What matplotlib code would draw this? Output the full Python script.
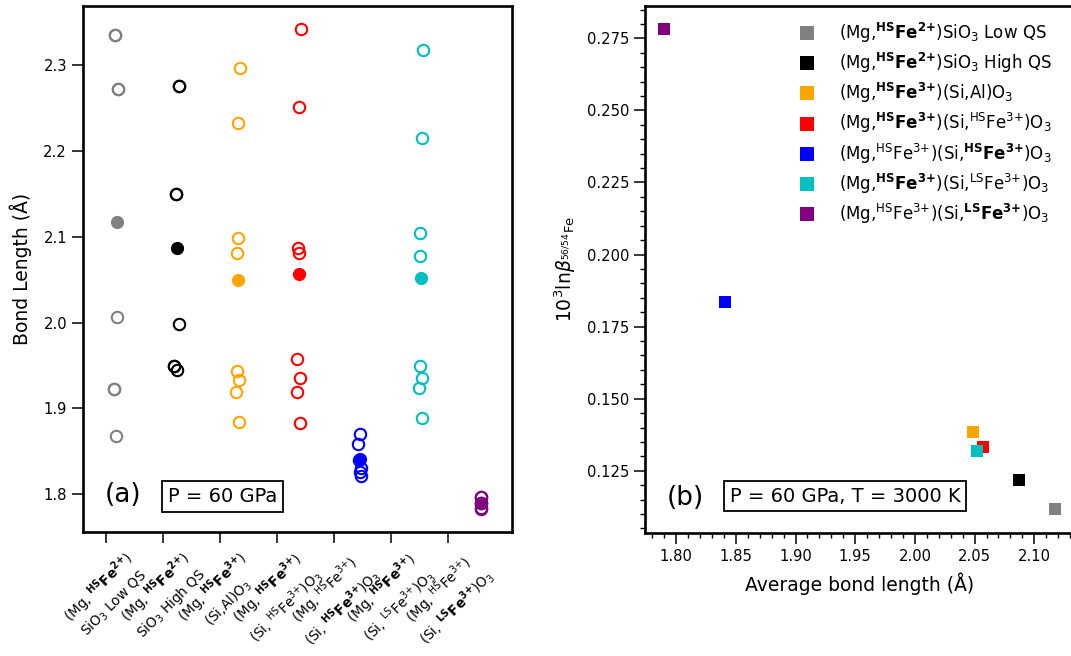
import numpy as np
import matplotlib
matplotlib.use("Agg")
import matplotlib.pyplot as plt
from matplotlib.ticker import MultipleLocator, FormatStrFormatter
from matplotlib.lines import Line2D

plt.rcParams['font.family'] = ['DejaVu Sans']
plt.rcParams['mathtext.fontset'] = 'dejavusans'

# ---------------- data ----------------
TICK_LABELS = [
    "(Mg, $\\mathbf{^{HS}Fe^{2{+}}}$)\nSiO$_3$ Low QS",
    "(Mg, $\\mathbf{^{HS}Fe^{2{+}}}$)\nSiO$_3$ High QS",
    "(Mg, $\\mathbf{^{HS}Fe^{3{+}}}$)\n(Si,Al)O$_3$",
    "(Mg, $\\mathbf{^{HS}Fe^{3{+}}}$)\n(Si, $^{\\mathrm{HS}}$Fe$^{3{+}}$)O$_3$",
    "(Mg, $^{\\mathrm{HS}}$Fe$^{3{+}}$)\n(Si, $\\mathbf{^{HS}Fe^{3{+}}}$)O$_3$",
    "(Mg, $\\mathbf{^{HS}Fe^{3{+}}}$)\n(Si, $^{\\mathrm{LS}}$Fe$^{3{+}}$)O$_3$",
    "(Mg, $^{\\mathrm{HS}}$Fe$^{3{+}}$)\n(Si, $\\mathbf{^{LS}Fe^{3{+}}}$)O$_3$",
]
LEGEND_LABELS = [
    "(Mg,$\\mathbf{^{HS}Fe^{2{+}}}$)SiO$_3$ Low QS",
    "(Mg,$\\mathbf{^{HS}Fe^{2{+}}}$)SiO$_3$ High QS",
    "(Mg,$\\mathbf{^{HS}Fe^{3{+}}}$)(Si,Al)O$_3$",
    "(Mg,$\\mathbf{^{HS}Fe^{3{+}}}$)(Si,$^{\\mathrm{HS}}$Fe$^{3{+}}$)O$_3$",
    "(Mg,$^{\\mathrm{HS}}$Fe$^{3{+}}$)(Si,$\\mathbf{^{HS}Fe^{3{+}}}$)O$_3$",
    "(Mg,$\\mathbf{^{HS}Fe^{3{+}}}$)(Si,$^{\\mathrm{LS}}$Fe$^{3{+}}$)O$_3$",
    "(Mg,$^{\\mathrm{HS}}$Fe$^{3{+}}$)(Si,$\\mathbf{^{LS}Fe^{3{+}}}$)O$_3$",
]

# individual Fe-O bond lengths (Angstrom)
BONDS_FE2_LOWQS = [2.3355, 2.3355, 2.2724, 2.2724, 2.0064, 1.9219, 1.9219, 1.868]
BONDS_FE2_HIGHQS = [2.2763, 2.2763, 2.150, 2.150, 1.9979, 1.9488, 1.9488, 1.9441]
BONDS_FE3_AL = [2.2973, 2.233, 2.0981, 2.0806, 1.9429, 1.9332, 1.9187, 1.8841]
BONDS_FE3A_HSB = [2.3418, 2.2513, 2.0864, 2.0806, 1.9573, 1.9356, 1.9192, 1.8833]
BONDS_FE3B_HSA = [1.8696, 1.8584, 1.840, 1.8303, 1.826, 1.8213]
BONDS_FE3A_LSB = [2.3176, 2.2151, 2.104, 2.0774, 1.9491, 1.9356, 1.9234, 1.8883]
BONDS_FE3B_LS = [1.797, 1.796, 1.790, 1.789, 1.784, 1.783]

# average bond lengths and 10^3 ln(beta)
AVG_BOND = [2.117, 2.087, 2.049, 2.057, 1.841, 2.052, 1.790]
LNBETA = [0.1117, 0.1217, 0.1383, 0.1331, 0.1834, 0.1319, 0.2781]

# small horizontal jitter of each open circle (pixels)
JIT_PX = [
    [-0.7, -0.7, 1.5, 1.5, 1.3, -2.0, -2.0, 0.0],
    [1.7, 1.7, -0.5, -0.5, 2.5, -2.8, -2.8, 0.5],
    [2.4, 0.7, 0.1, -0.6, -0.9, 1.7, -1.9, 1.4],
    [2.6, 0.9, -0.7, 0.3, -1.1, 1.9, -1.7, 1.6],
    [0.5, -1.2, 0.0, 1.8, 1.1, 1.5],
    [3.3, 1.7, 0.3, 0.0, -0.3, 2.3, -1.3, 2.0],
    [0.0, 0.5, 0.0, 0.0, 0.0, 0.0],
]

COLORS = ['gray', 'black', 'orange', 'red', 'blue', 'c', 'purple']

BONDS = [BONDS_FE2_LOWQS, BONDS_FE2_HIGHQS, BONDS_FE3_AL, BONDS_FE3A_HSB,
         BONDS_FE3B_HSA, BONDS_FE3A_LSB, BONDS_FE3B_LS]

# ---------------- figure ----------------
W, H = 1071, 656
fig = plt.figure(figsize=(W / 100, H / 100), dpi=100)

axL = fig.add_axes([83 / W, 1 - 532 / H, 429 / W, 526.5 / H])
axR = fig.add_axes([645 / W, 1 - 533 / H, 429 / W, 527.5 / H])

PX_PER_UNIT = 60.8
for i, (bonds, jit, col) in enumerate(zip(BONDS, JIT_PX, COLORS)):
    xs = [i + 1 + j / PX_PER_UNIT for j in jit]
    axL.plot(xs, bonds, 'o', ms=8.2, mfc='none', mec=col, mew=1.5, ls='none')
    axL.plot([i + 1 + 0.01], [AVG_BOND[i]], 'o', ms=9.5, mfc=col, mec=col, mew=0, ls='none')

axL.set_xlim(0.457, 7.513)
axL.set_ylim(1.7557, 2.3697)
axL.yaxis.set_major_locator(MultipleLocator(0.1))
axL.yaxis.set_major_formatter(FormatStrFormatter('%.1f'))
TICK_POS = [0.836 + 0.9375 * k for k in range(len(TICK_LABELS))]
axL.set_xticks(TICK_POS)
axL.set_xticklabels(TICK_LABELS, rotation=45, ha='center', fontsize=9.8)
axL.set_ylabel('Bond Length (Å)', fontsize=13.5, labelpad=8)
axL.tick_params(axis='y', labelsize=10.6)
axL.text(0.093, 0.070, '(a)', transform=axL.transAxes, fontsize=19, va='center', ha='center')
axL.text(0.325, 0.068, 'P = 60 GPa', transform=axL.transAxes, fontsize=14, va='center', ha='center',
         bbox=dict(boxstyle='square,pad=0.3', fc='white', ec='black', lw=1.3))

# right panel
for i, col in enumerate(COLORS):
    axR.plot([AVG_BOND[i]], [LNBETA[i]], 's', ms=9, color=col, mew=0, ls='none')

axR.set_xlim(1.7739, 2.1333)
axR.set_ylim(0.1034, 0.2864)
axR.xaxis.set_major_locator(MultipleLocator(0.05))
axR.xaxis.set_minor_locator(MultipleLocator(0.01))
axR.xaxis.set_major_formatter(FormatStrFormatter('%.2f'))
axR.yaxis.set_major_locator(MultipleLocator(0.025))
axR.yaxis.set_minor_locator(MultipleLocator(0.005))
axR.yaxis.set_major_formatter(FormatStrFormatter('%.3f'))
axR.tick_params(labelsize=10.6)
axR.set_xlabel('Average bond length (Å)', fontsize=13.5, labelpad=6)
axR.set_ylabel(r'10$^3$ln$\beta_{^{56/54}\mathrm{Fe}}$', fontsize=13.5, labelpad=6)
axR.text(0.0944, 0.0664, '(b)', transform=axR.transAxes, fontsize=19, va='center', ha='center')
axR.text(0.466, 0.070, 'P = 60 GPa, T = 3000 K', transform=axR.transAxes, fontsize=14, va='center', ha='center',
         bbox=dict(boxstyle='square,pad=0.3', fc='white', ec='black', lw=1.3))

handles = [Line2D([], [], marker='s', ls='none', ms=10, color=c, mew=0) for c in COLORS]
leg = axR.legend(handles, LEGEND_LABELS, loc='upper left', frameon=False, fontsize=12,
                 bbox_to_anchor=((794 - 645) / 429, 1 - 15 / 527.5), borderaxespad=0,
                 borderpad=0, handlelength=1.5, handletextpad=1.2, labelspacing=0.37)

for ax in (axL, axR):
    for s in ax.spines.values():
        s.set_linewidth(1.9)
    ax.tick_params(which='major', direction='out', length=8, width=1.1)
    ax.tick_params(which='minor', direction='out', length=3.5, width=1.0)

fig.savefig('out.png', dpi=100)
